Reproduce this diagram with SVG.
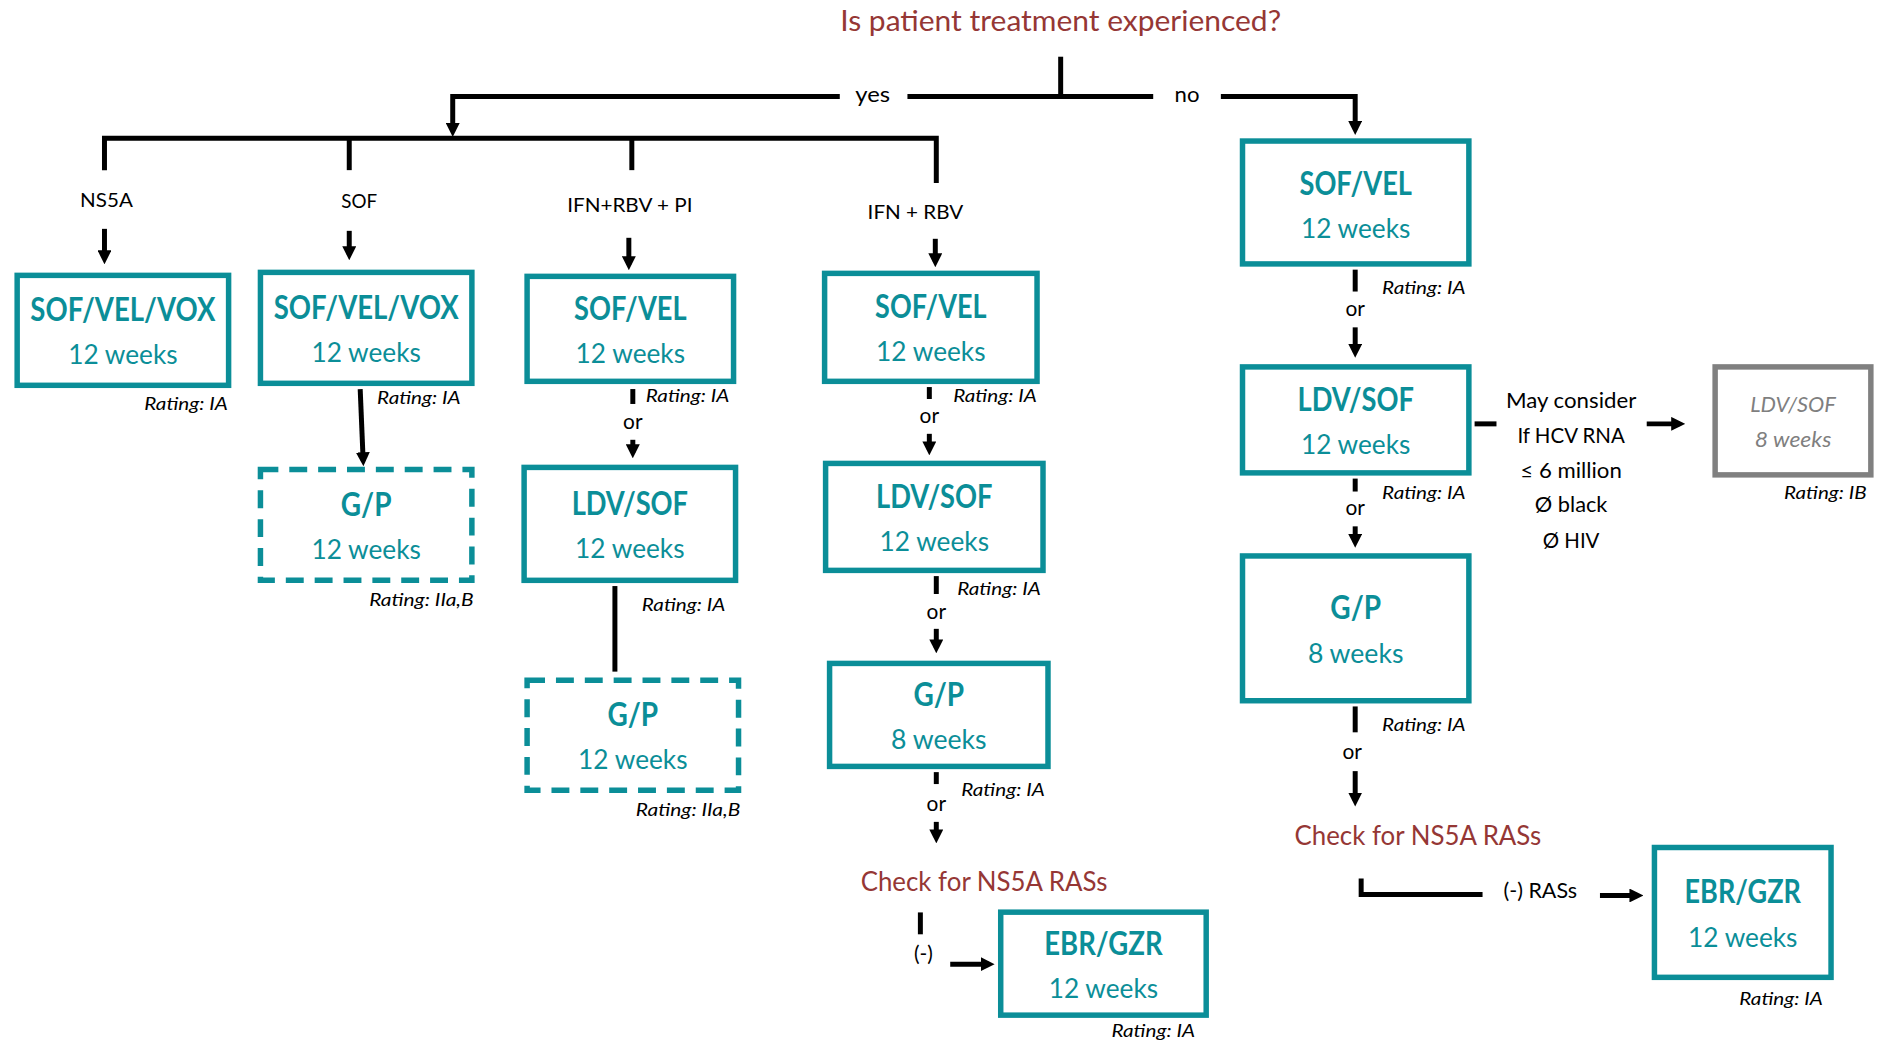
<svg xmlns="http://www.w3.org/2000/svg" width="1889" height="1043" viewBox="0 0 1889 1043">
<style>
.box{fill:#fff;stroke:#0B8E98;stroke-width:5.5}
.dash{stroke-dasharray:18 11}
.gbox{fill:#fff;stroke:#808080;stroke-width:5.5}
text{font-family:Lato,"Open Sans","Liberation Sans",sans-serif;text-anchor:middle}
.t{font-weight:700;font-size:32px;fill:#0B8E98}
.w{font-size:28px;fill:#0B8E98}
.g{font-style:italic;font-size:22px;fill:#7F7F7F}
.r{font-style:italic;font-size:17px;fill:#000;text-anchor:start}
.l{font-size:20px;fill:#000}
.m{font-size:21px;fill:#000}
.red{font-size:27px;fill:#953735}
.c{stroke:#000;stroke-width:5;fill:none}
.ca{stroke:#000;stroke-width:5;fill:none;marker-end:url(#ah)}
</style>
<defs>
<marker id="ah" viewBox="0 0 10 10" refX="6" refY="5" markerWidth="14" markerHeight="14" markerUnits="userSpaceOnUse" orient="auto">
<path d="M0,0 L10,5 L0,10 z" fill="#000"/>
</marker>
</defs>
<g transform="scale(0.995)">
<text x="1066" y="31" class="red" style="font-size:29px" textLength="443" lengthAdjust="spacingAndGlyphs">Is patient treatment experienced?</text>

<g id="connectors">
<path class="c" d="M1066,57 V97"/>
<path class="c" d="M912,97 H1066 H1159"/>
<path class="ca" d="M844,97 H455 V132"/>
<path class="ca" d="M1227,97 H1362 V130"/>
<path class="c" d="M105,171 V139 H941 V184"/>
<path class="c" d="M351,139 V171"/>
<path class="c" d="M635,139 V171"/>
<path class="ca" d="M105,230 V260"/>
<path class="ca" d="M351,232 V256"/>
<path class="ca" d="M632,239 V266"/>
<path class="ca" d="M940,240 V263"/>
<path class="ca" d="M362,391 L365,463"/>
<path class="c" d="M636,391 V406"/>
<path class="ca" d="M636,442 V455"/>
<path class="c" d="M618,589 V675"/>
<path class="c" d="M934,389 V401"/>
<path class="ca" d="M934,436 V452"/>
<path class="c" d="M941,579 V597"/>
<path class="ca" d="M941,632 V651"/>
<path class="c" d="M941,776 V788"/>
<path class="ca" d="M941,826 V842"/>
<path class="c" d="M925,917 V939"/>
<path class="ca" d="M955,969 H994"/>
<path class="c" d="M1362,271 V293"/>
<path class="ca" d="M1362,329 V354"/>
<path class="c" d="M1362,481 V494"/>
<path class="ca" d="M1362,529 V545"/>
<path class="c" d="M1362,710 V736"/>
<path class="ca" d="M1362,775 V805"/>
<path class="c" d="M1368,883 V899 H1490"/>
<path class="ca" d="M1608,900 H1646"/>
<path class="c" d="M1482,426 H1504"/>
<path class="ca" d="M1655,426 H1688"/>
<text x="877" y="103" class="m" textLength="35" lengthAdjust="spacingAndGlyphs">yes</text>
<text x="1193" y="103" class="m" textLength="25" lengthAdjust="spacingAndGlyphs">no</text>
<text x="107" y="208" class="l" textLength="53" lengthAdjust="spacingAndGlyphs">NS5A</text>
<text x="361" y="209" class="l" textLength="36" lengthAdjust="spacingAndGlyphs">SOF</text>
<text x="633" y="213" class="l" textLength="126" lengthAdjust="spacingAndGlyphs">IFN+RBV + PI</text>
<text x="920" y="220" class="l" textLength="96" lengthAdjust="spacingAndGlyphs">IFN + RBV</text>
<text x="636" y="431" class="m">or</text>
<text x="934" y="425" class="m">or</text>
<text x="941" y="622" class="m">or</text>
<text x="941" y="815" class="m">or</text>
<text x="1362" y="318" class="m">or</text>
<text x="1362" y="518" class="m">or</text>
<text x="1359" y="763" class="m">or</text>
<text x="928" y="966" class="m">(-)</text>
<text x="1548" y="903" class="m" textLength="74" lengthAdjust="spacingAndGlyphs">(-) RASs</text>
<text x="1579" y="410" class="m" style="font-size:22px" textLength="131" lengthAdjust="spacingAndGlyphs">May consider</text>
<text x="1579" y="445" class="m" style="font-size:22px" textLength="108" lengthAdjust="spacingAndGlyphs">If HCV RNA</text>
<text x="1579" y="480" class="m" style="font-size:22px" textLength="102" lengthAdjust="spacingAndGlyphs">≤ 6 million</text>
<text x="1579" y="515" class="m" style="font-size:22px" textLength="73" lengthAdjust="spacingAndGlyphs">Ø black</text>
<text x="1579" y="551" class="m" style="font-size:22px" textLength="57" lengthAdjust="spacingAndGlyphs">Ø HIV</text>
<text x="989" y="895" class="red" textLength="248" lengthAdjust="spacingAndGlyphs">Check for NS5A RASs</text>
<text x="1425" y="849" class="red" textLength="248" lengthAdjust="spacingAndGlyphs">Check for NS5A RASs</text>
</g>

<g id="n1">
<rect class="box" x="17.25" y="276.75" width="212.5" height="110.5"/>
<text class="t" x="123.5" y="323" textLength="186" lengthAdjust="spacingAndGlyphs">SOF/VEL/VOX</text>
<text class="w" x="123.5" y="366" textLength="110" lengthAdjust="spacingAndGlyphs">12 weeks</text>
<text class="r" x="145" y="412" textLength="84" lengthAdjust="spacingAndGlyphs">Rating: IA</text>
</g>
<g id="n2">
<rect class="box" x="261.75" y="273.75" width="212.5" height="111.5"/>
<text class="t" x="368" y="320.5" textLength="186" lengthAdjust="spacingAndGlyphs">SOF/VEL/VOX</text>
<text class="w" x="368" y="363.5" textLength="110" lengthAdjust="spacingAndGlyphs">12 weeks</text>
<text class="r" x="379" y="406" textLength="84" lengthAdjust="spacingAndGlyphs">Rating: IA</text>
</g>
<g id="n3">
<rect class="box" x="529.75" y="277.75" width="207.5" height="105.5"/>
<text class="t" x="633.5" y="321.5" textLength="113" lengthAdjust="spacingAndGlyphs">SOF/VEL</text>
<text class="w" x="633.5" y="364.5" textLength="110" lengthAdjust="spacingAndGlyphs">12 weeks</text>
<text class="r" x="649" y="404" textLength="84" lengthAdjust="spacingAndGlyphs">Rating: IA</text>
</g>
<g id="n4">
<rect class="box" x="828.75" y="274.75" width="213.5" height="108.5"/>
<text class="t" x="935.5" y="320" textLength="112" lengthAdjust="spacingAndGlyphs">SOF/VEL</text>
<text class="w" x="935.5" y="363" textLength="110" lengthAdjust="spacingAndGlyphs">12 weeks</text>
<text class="r" x="958" y="404" textLength="84" lengthAdjust="spacingAndGlyphs">Rating: IA</text>
</g>
<g id="n5">
<rect class="box" x="1248.75" y="141.75" width="227.5" height="123.5"/>
<text class="t" x="1362.5" y="196" textLength="113" lengthAdjust="spacingAndGlyphs">SOF/VEL</text>
<text class="w" x="1362.5" y="239" textLength="110" lengthAdjust="spacingAndGlyphs">12 weeks</text>
<text class="r" x="1389" y="295" textLength="84" lengthAdjust="spacingAndGlyphs">Rating: IA</text>
</g>
<g id="n6">
<rect class="box" x="1248.75" y="368.75" width="227.5" height="106.5"/>
<text class="t" x="1362.5" y="413" textLength="117" lengthAdjust="spacingAndGlyphs">LDV/SOF</text>
<text class="w" x="1362.5" y="456" textLength="110" lengthAdjust="spacingAndGlyphs">12 weeks</text>
<text class="r" x="1389" y="502" textLength="84" lengthAdjust="spacingAndGlyphs">Rating: IA</text>
</g>
<g id="n7">
<rect class="box" x="1248.75" y="558.75" width="227.5" height="145.5"/>
<text class="t" x="1362.5" y="622" textLength="51" lengthAdjust="spacingAndGlyphs">G/P</text>
<text class="w" x="1362.5" y="666" textLength="96" lengthAdjust="spacingAndGlyphs">8 weeks</text>
<text class="r" x="1389" y="735" textLength="84" lengthAdjust="spacingAndGlyphs">Rating: IA</text>
</g>
<g id="n8">
<rect class="gbox" x="1723.75" y="368.75" width="156.5" height="108.5"/>
<text class="g" x="1802" y="414" textLength="86" lengthAdjust="spacingAndGlyphs">LDV/SOF</text>
<text class="g" x="1802" y="449" textLength="77" lengthAdjust="spacingAndGlyphs">8 weeks</text>
<text class="r" x="1793" y="502" textLength="83" lengthAdjust="spacingAndGlyphs">Rating: IB</text>
</g>
<g id="n9">
<rect class="box dash" x="261.75" y="471.75" width="212.5" height="111.5"/>
<text class="t" x="368" y="518.5" textLength="51" lengthAdjust="spacingAndGlyphs">G/P</text>
<text class="w" x="368" y="561.5" textLength="110" lengthAdjust="spacingAndGlyphs">12 weeks</text>
<text class="r" x="371" y="609" textLength="105" lengthAdjust="spacingAndGlyphs">Rating: IIa,B</text>
</g>
<g id="n10">
<rect class="box" x="526.75" y="469.75" width="212.5" height="113.5"/>
<text class="t" x="633" y="517.5" textLength="117" lengthAdjust="spacingAndGlyphs">LDV/SOF</text>
<text class="w" x="633" y="560.5" textLength="110" lengthAdjust="spacingAndGlyphs">12 weeks</text>
<text class="r" x="645" y="614" textLength="84" lengthAdjust="spacingAndGlyphs">Rating: IA</text>
</g>
<g id="n11">
<rect class="box dash" x="529.75" y="683.75" width="212.5" height="110.5"/>
<text class="t" x="636" y="730" textLength="51" lengthAdjust="spacingAndGlyphs">G/P</text>
<text class="w" x="636" y="773" textLength="110" lengthAdjust="spacingAndGlyphs">12 weeks</text>
<text class="r" x="639" y="820" textLength="105" lengthAdjust="spacingAndGlyphs">Rating: IIa,B</text>
</g>
<g id="n12">
<rect class="box" x="829.75" y="465.75" width="218.5" height="107.5"/>
<text class="t" x="939" y="510.5" textLength="117" lengthAdjust="spacingAndGlyphs">LDV/SOF</text>
<text class="w" x="939" y="553.5" textLength="110" lengthAdjust="spacingAndGlyphs">12 weeks</text>
<text class="r" x="962" y="598" textLength="84" lengthAdjust="spacingAndGlyphs">Rating: IA</text>
</g>
<g id="n13">
<rect class="box" x="833.75" y="666.75" width="219.5" height="103.5"/>
<text class="t" x="943.5" y="709.5" textLength="51" lengthAdjust="spacingAndGlyphs">G/P</text>
<text class="w" x="943.5" y="752.5" textLength="96" lengthAdjust="spacingAndGlyphs">8 weeks</text>
<text class="r" x="966" y="800" textLength="84" lengthAdjust="spacingAndGlyphs">Rating: IA</text>
</g>
<g id="n14">
<rect class="box" x="1005.75" y="916.75" width="206.5" height="103.5"/>
<text class="t" x="1109" y="959.5" textLength="119" lengthAdjust="spacingAndGlyphs">EBR/GZR</text>
<text class="w" x="1109" y="1003" textLength="110" lengthAdjust="spacingAndGlyphs">12 weeks</text>
<text class="r" x="1117" y="1042" textLength="84" lengthAdjust="spacingAndGlyphs">Rating: IA</text>
</g>
<g id="n15">
<rect class="box" x="1662.75" y="851.75" width="177.5" height="130.5"/>
<text class="t" x="1751.5" y="908" textLength="117" lengthAdjust="spacingAndGlyphs">EBR/GZR</text>
<text class="w" x="1751.5" y="952" textLength="110" lengthAdjust="spacingAndGlyphs">12 weeks</text>
<text class="r" x="1748" y="1010" textLength="84" lengthAdjust="spacingAndGlyphs">Rating: IA</text>
</g>
</g>
</svg>
